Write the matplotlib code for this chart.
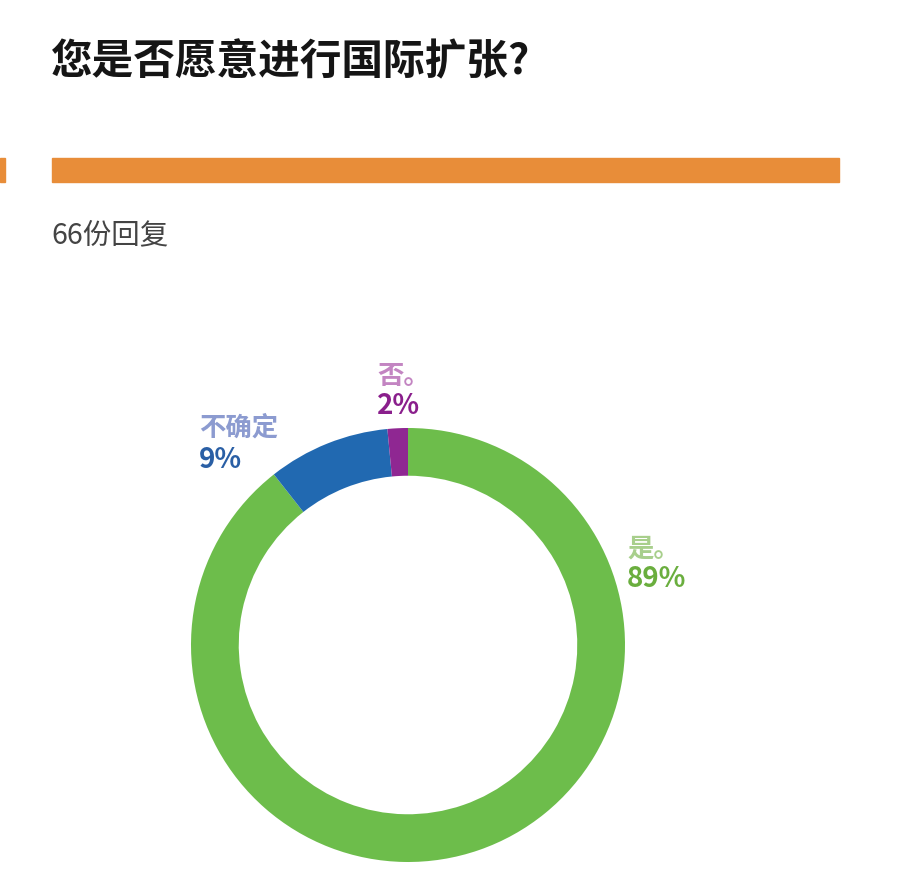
import matplotlib
matplotlib.use("Agg")
import matplotlib.pyplot as plt
from matplotlib.patches import Rectangle

plt.rcParams['font.family'] = ['Noto Sans CJK SC', 'DejaVu Sans']

# ─── Data ─────────────────────────────────────────────────────────────────────
title = "您是否愿意进行国际扩张?"
subtitle = "66份回复"
categories = ["是。", "不确定", "否。"]
counts = [59, 6, 1]
pct_labels = ["89%", "9%", "2%"]

slice_colors = ["#6dbd4b", "#2169b1", "#8f2792"]
name_colors = ["#a8cf8c", "#8c9bd0", "#c385c2"]
pct_colors = ["#6aae3e", "#2a5fa5", "#8a1f8c"]

W, H = 911, 892


def fx(x):
    return x / W


def fy(y):
    return 1 - y / H


fig = plt.figure(figsize=(W / 100, H / 100), dpi=100)

# ─── Header ───────────────────────────────────────────────────────────────────
fig.text(fx(51), fy(62), title, fontsize=30, fontweight="heavy",
         color="#151515", va="center", ha="left")

# orange divider bar (plus a stray piece at the left edge)
fig.patches.append(Rectangle((fx(52), fy(182)), fx(839) - fx(52), fy(158) - fy(182),
                             transform=fig.transFigure, color="#e88d39"))
fig.patches.append(Rectangle((0, fy(182)), fx(5), fy(158) - fy(182),
                             transform=fig.transFigure, color="#e88d39"))

fig.text(fx(51), fy(235), subtitle, fontsize=20.5, fontweight="light",
         color="#444444", va="center", ha="left")

# ─── Donut ────────────────────────────────────────────────────────────────────
cx, cy, r = 408, 645, 217
ax = fig.add_axes([fx(cx - r), fy(cy + r), 2 * r / W, 2 * r / H])
ax.pie(counts, colors=slice_colors, startangle=90, counterclock=False,
       radius=1, wedgeprops=dict(width=0.22, edgecolor="none"))
ax.set_xlim(-1, 1)
ax.set_ylim(-1, 1)
ax.axis("off")

# ─── Labels ───────────────────────────────────────────────────────────────────
label_pos = [(627, 549, 579), (199, 428, 460), (377, 377, 406)]
for (x, y1, y2), name, pct, nc, pc in zip(label_pos, categories, pct_labels,
                                          name_colors, pct_colors):
    fig.text(fx(x), fy(y1), name, fontsize=19, fontweight="bold",
             color=nc, va="center", ha="left")
    fig.text(fx(x), fy(y2), pct, fontsize=20, fontweight="bold",
             color=pc, va="center", ha="left")

fig.savefig("out.png", dpi=100)
